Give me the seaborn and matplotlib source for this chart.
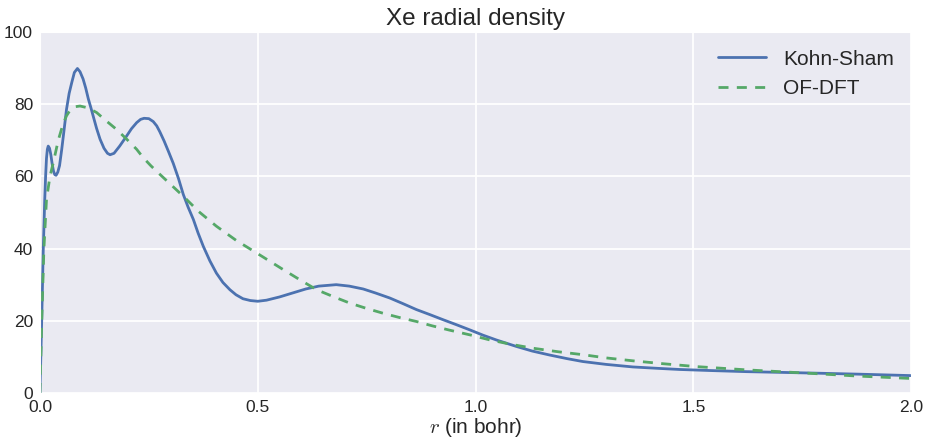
import matplotlib
matplotlib.use("Agg")
import matplotlib.pyplot as plt
import seaborn as sns
import pandas as pd

r_ks = [0.0, 0.002, 0.004, 0.0076, 0.011, 0.013, 0.015, 0.017, 0.019, 0.022, 0.025,
        0.028, 0.031, 0.034, 0.037, 0.041, 0.045, 0.050, 0.055, 0.061, 0.067, 0.073,
        0.079, 0.086, 0.092, 0.099, 0.105, 0.111, 0.117, 0.122, 0.130, 0.138, 0.147,
        0.155, 0.161, 0.170, 0.183, 0.199, 0.210, 0.222, 0.231, 0.239, 0.250, 0.260,
        0.268, 0.275, 0.285, 0.295, 0.306, 0.318, 0.329, 0.340, 0.352, 0.363, 0.375,
        0.390, 0.405, 0.420, 0.436, 0.450, 0.466, 0.483, 0.500, 0.520, 0.550, 0.580,
        0.610, 0.640, 0.680, 0.710, 0.742, 0.770, 0.803, 0.834, 0.864, 0.895, 0.925,
        0.956, 0.986, 1.017, 1.047, 1.093, 1.130, 1.170, 1.210, 1.246, 1.300, 1.361,
        1.420, 1.468, 1.540, 1.621, 1.700, 1.774, 1.880, 2.0]
rho_ks = [0.0, 10.0, 20.0, 39.7, 53.6, 60.0, 65.0, 67.5, 68.4, 67.8, 66.0,
          63.5, 61.5, 60.5, 60.3, 61.2, 63.0, 67.5, 72.5, 78.6, 83.0, 86.0,
          88.8, 89.9, 89.0, 87.0, 84.5, 81.5, 79.0, 76.8, 73.3, 70.3, 67.8,
          66.4, 66.0, 66.4, 68.4, 71.2, 73.2, 74.9, 75.8, 76.1, 76.0, 75.2,
          74.0, 72.4, 69.8, 66.9, 63.6, 59.4, 55.0, 51.5, 48.1, 44.3, 40.6,
          36.6, 33.2, 30.6, 28.6, 27.2, 26.1, 25.6, 25.4, 25.7, 26.6, 27.7,
          28.8, 29.6, 30.0, 29.6, 28.8, 27.7, 26.3, 24.7, 23.1, 21.7, 20.3,
          18.9, 17.5, 16.0, 14.7, 12.9, 11.6, 10.5, 9.5, 8.7, 7.9, 7.2,
          6.8, 6.5, 6.2, 5.9, 5.7, 5.5, 5.2, 4.8]

r_of = [0.0, 0.004, 0.009, 0.015, 0.023, 0.031, 0.042, 0.053, 0.061, 0.069, 0.080,
        0.092, 0.110, 0.130, 0.150, 0.176, 0.200, 0.222, 0.237, 0.255, 0.275, 0.298,
        0.329, 0.365, 0.405, 0.450, 0.497, 0.558, 0.596, 0.635, 0.675, 0.711, 0.750,
        0.787, 0.825, 0.864, 0.900, 0.940, 0.990, 1.032, 1.080, 1.131, 1.190, 1.246,
        1.300, 1.361, 1.430, 1.506, 1.621, 1.758, 1.873, 2.0]
rho_of = [0.0, 19.4, 39.7, 53.6, 60.0, 64.0, 70.0, 74.5, 76.8, 78.3, 79.3,
          79.5, 79.0, 77.7, 75.6, 73.0, 70.2, 67.5, 65.2, 62.9, 60.6, 58.0,
          54.5, 50.2, 46.2, 42.3, 38.8, 34.2, 31.4, 28.6, 26.6, 24.9, 23.4,
          22.1, 20.9, 19.8, 18.6, 17.4, 16.0, 14.7, 13.5, 12.4, 11.4, 10.6,
          9.7, 8.9, 8.1, 7.3, 6.4, 5.5, 4.7, 4.0]

x_ticks = [0.0, 0.5, 1.0, 1.5, 2.0]
y_ticks = [0, 20, 40, 60, 80, 100]

sns.set_style("darkgrid")
plt.rcParams["font.family"] = ["Liberation Sans", "DejaVu Sans"]
plt.rcParams["mathtext.fontset"] = "cm"

fig = plt.figure(figsize=(9.29, 4.45), dpi=100)
ax = fig.add_axes([0.043, 0.117, 0.938, 0.811])

df_ks = pd.DataFrame({"r": r_ks, "rho": rho_ks})
df_of = pd.DataFrame({"r": r_of, "rho": rho_of})
sns.lineplot(data=df_ks, x="r", y="rho", ax=ax, color="#4C72B0", lw=2.0,
             label="Kohn-Sham", sort=False)
sns.lineplot(data=df_of, x="r", y="rho", ax=ax, color="#55A868", lw=2.0,
             linestyle=(0, (3.6, 3.0)), label="OF-DFT", sort=False)

ax.set_xlim(0, 2.0)
ax.set_ylim(0, 100)
ax.set_xticks(x_ticks)
ax.set_xticklabels([f"{v:.1f}" for v in x_ticks])
ax.set_yticks(y_ticks)
ax.tick_params(axis="both", labelsize=12.5, colors="#262626", length=0, pad=5)
ax.set_xlabel("$r$ (in bohr)", fontsize=15, color="#262626", labelpad=1)
ax.set_ylabel("")
ax.set_title("Xe radial density", fontsize=17.5, color="#262626", pad=5)
ax.grid(color="white", linewidth=1.3)
leg = ax.legend(loc="upper right", frameon=False, fontsize=15, handlelength=2.3,
                borderaxespad=0.45)
for t in leg.get_texts():
    t.set_color("#262626")

fig.savefig("out.png", dpi=100)
